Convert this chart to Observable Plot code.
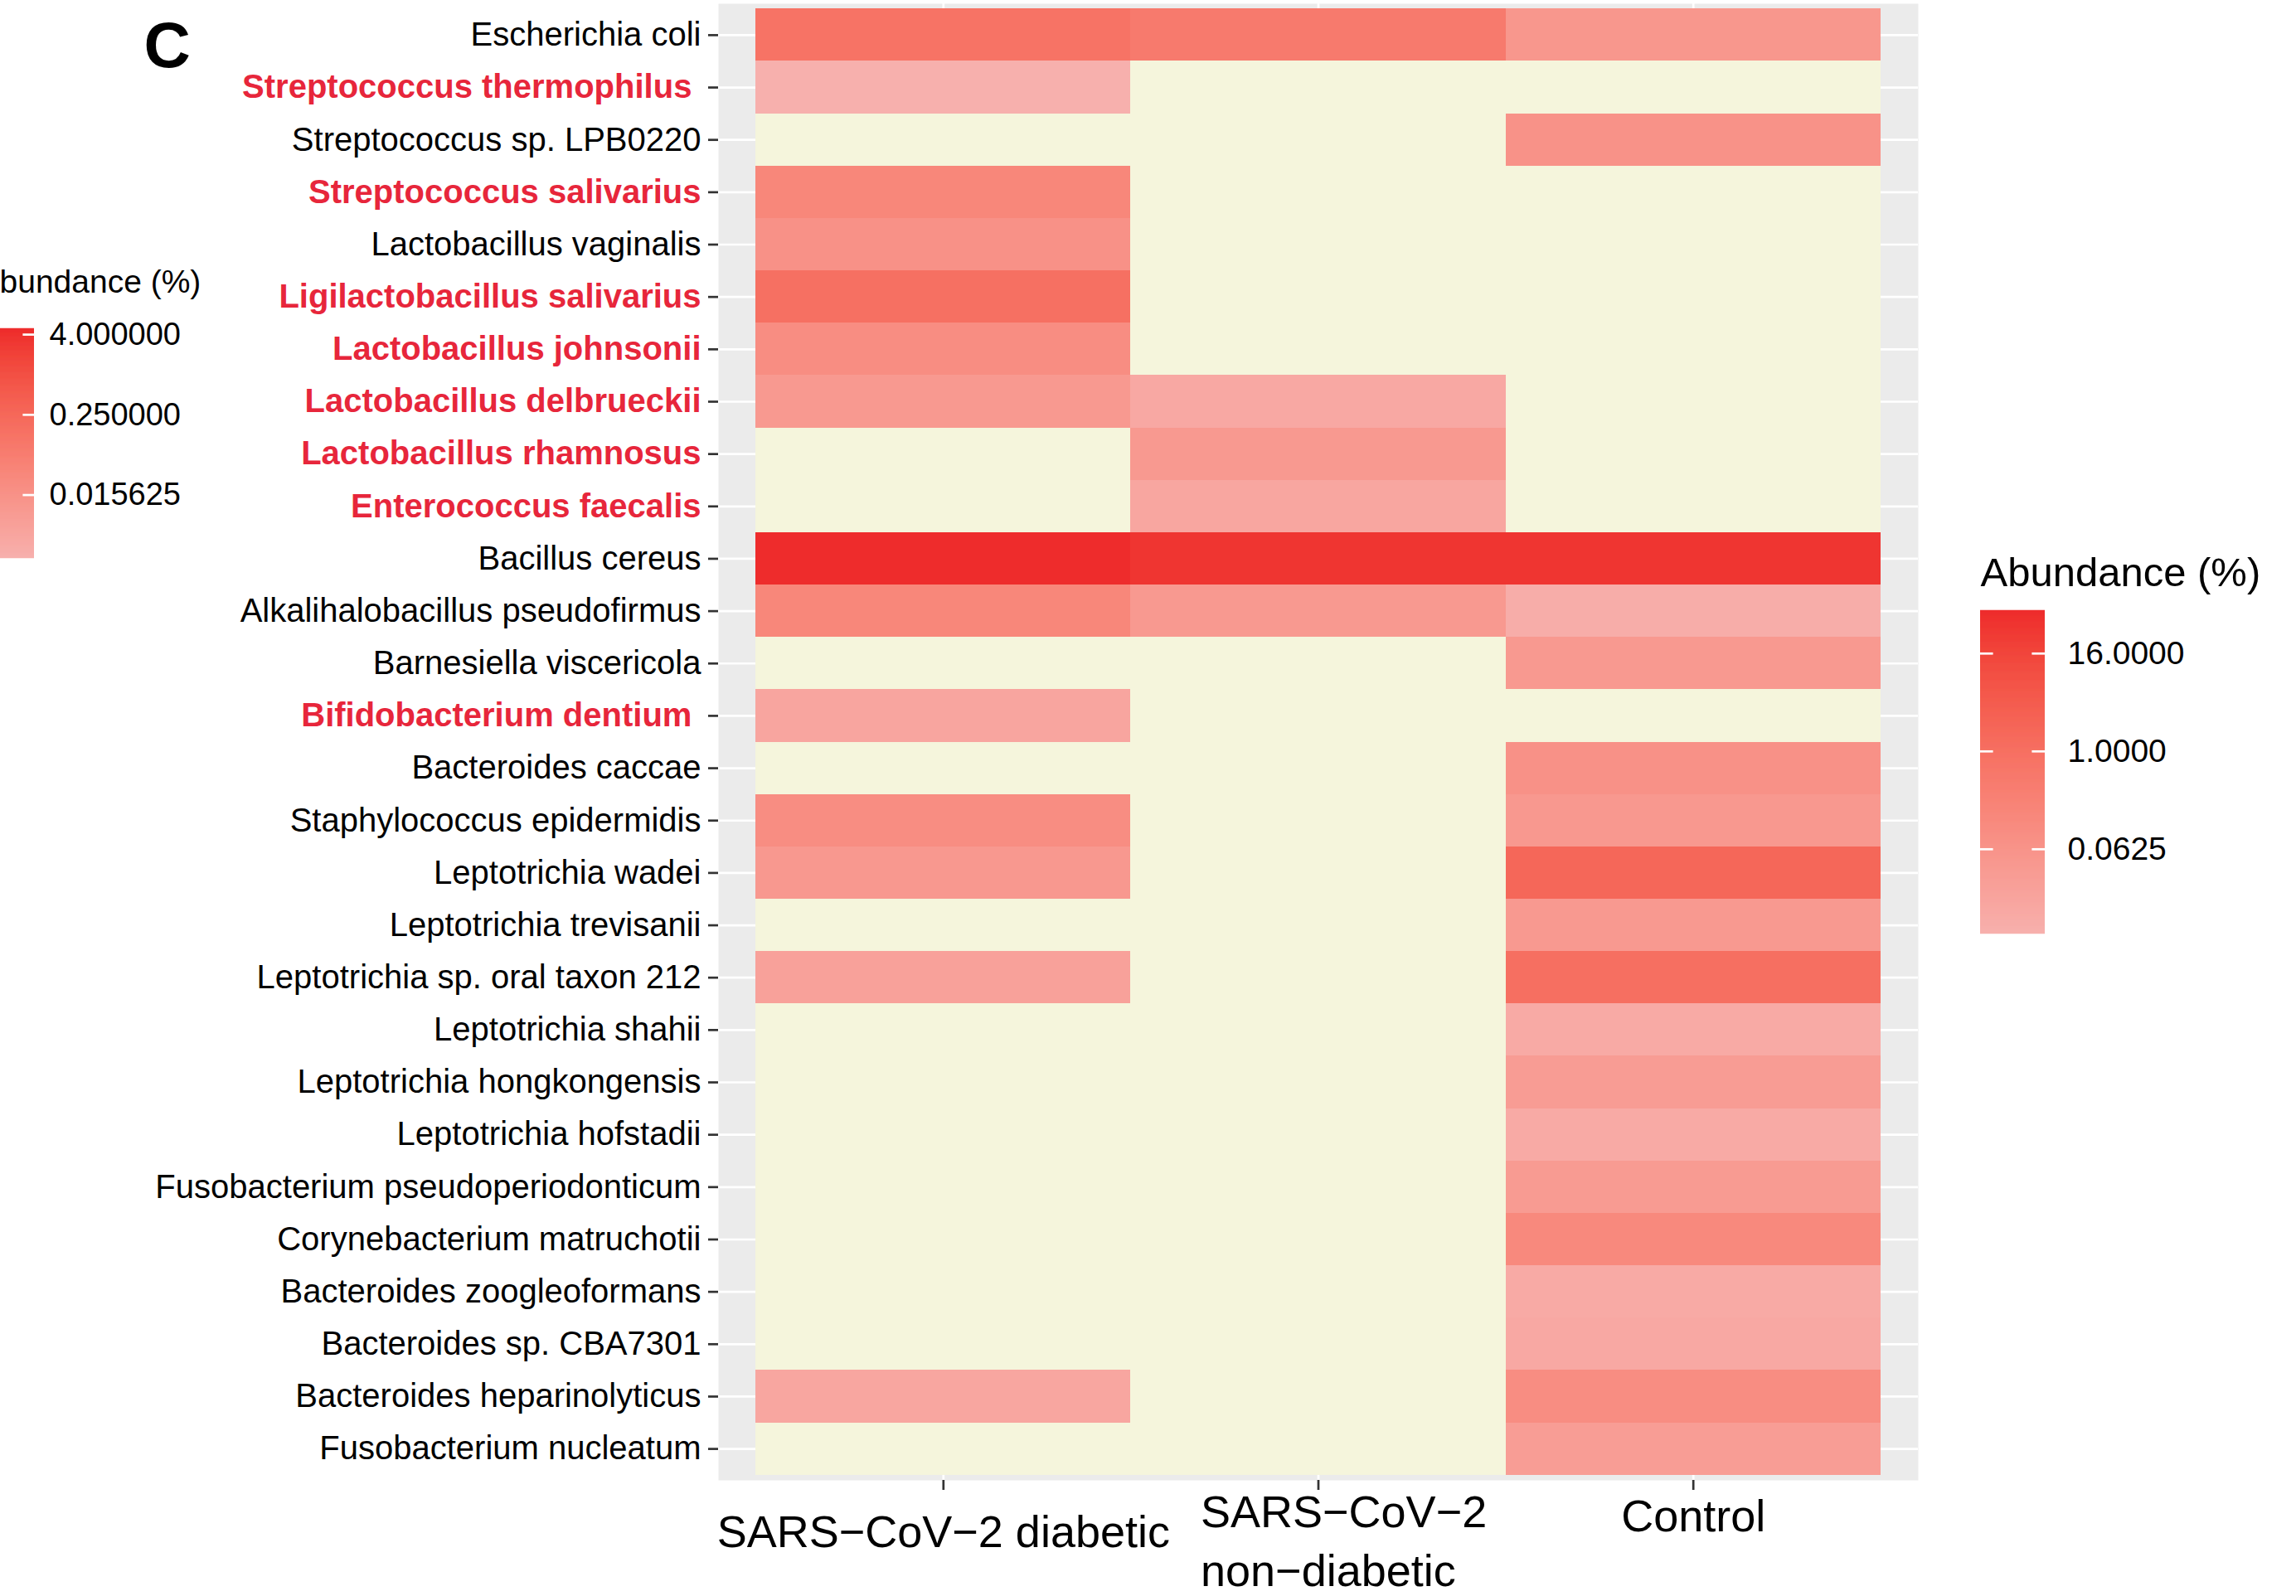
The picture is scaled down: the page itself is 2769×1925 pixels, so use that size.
<!DOCTYPE html>
<html>
<head>
<meta charset="utf-8">
<script src="https://cdn.jsdelivr.net/npm/d3@7"></script>
<script src="https://cdn.jsdelivr.net/npm/@observablehq/plot@0.6"></script>
<style>
  html, body { margin: 0; padding: 0; background: #ffffff; }
  #figure {
    position: relative; width: 2769px; height: 1925px; overflow: hidden; background: #ffffff;
    font-family: "Liberation Sans", Arial, Helvetica, sans-serif;
  }
  #figure > svg { position: absolute; overflow: visible; }
</style>
</head>
<body>
<div id="figure"></div>
<script>
// Sample groups (x categories)
const groups = ["SARS−CoV−2 diabetic", "SARS−CoV−2\nnon−diabetic", "Control"];

// Species (y categories, top to bottom)
const species = [
  "Escherichia coli",
  "Streptococcus thermophilus",
  "Streptococcus sp. LPB0220",
  "Streptococcus salivarius",
  "Lactobacillus vaginalis",
  "Ligilactobacillus salivarius",
  "Lactobacillus johnsonii",
  "Lactobacillus delbrueckii",
  "Lactobacillus rhamnosus",
  "Enterococcus faecalis",
  "Bacillus cereus",
  "Alkalihalobacillus pseudofirmus",
  "Barnesiella viscericola",
  "Bifidobacterium dentium",
  "Bacteroides caccae",
  "Staphylococcus epidermidis",
  "Leptotrichia wadei",
  "Leptotrichia trevisanii",
  "Leptotrichia sp. oral taxon 212",
  "Leptotrichia shahii",
  "Leptotrichia hongkongensis",
  "Leptotrichia hofstadii",
  "Fusobacterium pseudoperiodonticum",
  "Corynebacterium matruchotii",
  "Bacteroides zoogleoformans",
  "Bacteroides sp. CBA7301",
  "Bacteroides heparinolyticus",
  "Fusobacterium nucleatum"
];

// Probiotic species, highlighted in bold red
const probiotics = [
  "Streptococcus thermophilus",
  "Streptococcus salivarius",
  "Ligilactobacillus salivarius",
  "Lactobacillus johnsonii",
  "Lactobacillus delbrueckii",
  "Lactobacillus rhamnosus",
  "Enterococcus faecalis",
  "Bifidobacterium dentium"
];
// labels that carry a trailing space
const spacedLabels = ["Streptococcus thermophilus", "Bifidobacterium dentium"];

// Relative abundance (%) per species; null = not detected
const diabetic = [0.81, 0.0058, null, 0.18, 0.077, 1.0, 0.11, 0.040, null, null, 54, 0.18, null, 0.015,
  null, 0.11, 0.045, null, 0.021, null, null, null, null, null, null, null, 0.014, null];
const nonDiabetic = [0.47, null, null, null, null, null, null, 0.011, 0.040, 0.014, 38, 0.040, null, null,
  null, null, null, null, null, null, null, null, null, null, null, null, null, null];
const control = [0.049, null, 0.069, null, null, null, null, null, null, null, 38, 0.0075, 0.040, null,
  0.075, 0.045, 2.0, 0.040, 1.1, 0.010, 0.031, 0.010, 0.035, 0.15, 0.010, 0.011, 0.11, 0.030];

// Colour bar ticks
const legendTicks = [16, 1, 0.0625];
// Neighbouring panel B colour bar (range and ticks)
const panelBRange = [0.0018, 4.9];
const panelBTicks = [4, 0.25, 0.015625];

const lowColor = "#F7B0AD";
const highColor = "#EE2C2C";
const missingColor = "#F5F5DC";
const probioticColor = "#E7263B";
const fontFamily = '"Liberation Sans", Arial, Helvetica, sans-serif';

const series = [diabetic, nonDiabetic, control];
const table = species.flatMap((s, i) => groups.map((g, j) => ({species: s, group: g, value: series[j][i]})));
const detected = table.filter(d => d.value != null);
const extent = d3.extent(detected, d => d.value);

const colorScale = (domain) => ({type: "log", domain, range: [lowColor, highColor], interpolate: d3.interpolateLab});

const plain = species.filter(s => !probiotics.includes(s));
const labelOf = s => spacedLabels.includes(s) ? s + "\u00A0" : s;

const axisCommon = {label: null, tickSize: 12, tickPadding: 9, fontSize: 40, stroke: "#333333", strokeWidth: 2.7};

const heatmap = Plot.plot({
  width: 2769,
  height: 1925,
  marginLeft: 866,
  marginRight: 456,
  marginTop: 4,
  marginBottom: 140,
  style: {fontFamily, background: "transparent", color: "#000"},
  x: {domain: groups, paddingInner: 0, paddingOuter: 0.1, round: false},
  y: {domain: species, paddingInner: 0, paddingOuter: 0.1, round: false},
  color: colorScale(extent),
  marks: [
    Plot.frame({fill: "#EBEBEB", stroke: "none"}),
    Plot.gridX({stroke: "white", strokeOpacity: 1, strokeWidth: 2.7}),
    Plot.gridY({stroke: "white", strokeOpacity: 1, strokeWidth: 2.7}),
    Plot.cell(table, {x: "group", y: "species", fill: missingColor, inset: 0, shapeRendering: "crispEdges"}),
    Plot.cell(detected, {x: "group", y: "species", fill: "value", inset: 0, shapeRendering: "crispEdges"}),
    Plot.axisY({...axisCommon, ticks: plain, fill: "#000"}),
    Plot.axisY({...axisCommon, ticks: probiotics, tickFormat: labelOf, fill: probioticColor, fontWeight: "bold"}),
    Plot.axisX({label: null, tickSize: 12, tickFormat: () => "", stroke: "#333333", strokeWidth: 2.7}),
    Plot.text([groups[0]], {x: d => d, frameAnchor: "bottom", lineAnchor: "top", dy: 42, fontSize: 54, fill: "#000"}),
    Plot.text([groups[1]], {x: d => d, frameAnchor: "bottom", lineAnchor: "top", textAnchor: "start",
      dx: -142, dy: 7, lineHeight: 1.3, fontSize: 54, fill: "#000"}),
    Plot.text([groups[2]], {x: d => d, frameAnchor: "bottom", lineAnchor: "top", dy: 23, fontSize: 54, fill: "#000"}),
    Plot.text(["C"], {frameAnchor: "top-left", textAnchor: "start", lineAnchor: "bottom",
      dx: 173 - 866, dy: 76, fontSize: 78, fontWeight: "bold", fill: "#000"})
  ]
});
heatmap.style.left = "0px";
heatmap.style.top = "0px";

// Vertical colour bar in the ggplot style: smooth log ramp, white edge ticks, labels to the right
function colorbar({domain, ticks, format, barWidth, barHeight, labelGap, labelSize, title, titleSize, titleGap}) {
  const marginTop = 80, marginBottom = 30, labelRoom = 320;
  const n = Math.ceil(barHeight) * 2;
  const [l0, l1] = domain.map(Math.log);
  const steps = d3.range(n + 1).map(i => Math.exp(l0 + (l1 - l0) * i / n));
  const fmt = d3.format(format);
  const svg = Plot.plot({
    width: barWidth + labelRoom,
    height: barHeight + marginTop + marginBottom,
    marginLeft: 0,
    marginRight: labelRoom,
    marginTop,
    marginBottom,
    style: {fontFamily, background: "transparent", color: "#000", overflow: "visible"},
    x: {domain: [0, 1], axis: null},
    y: {type: "log", domain, axis: null},
    color: colorScale(domain),
    marks: [
      Plot.ruleY(steps, {y: d => d, x1: 0, x2: 1, stroke: d => d, strokeWidth: 1.6}),
      Plot.ruleY(ticks, {y: d => d, x1: 0, x2: 0.2, stroke: "white", strokeWidth: 2.7}),
      Plot.ruleY(ticks, {y: d => d, x1: 0.8, x2: 1, stroke: "white", strokeWidth: 2.7}),
      Plot.text(ticks, {y: d => d, text: d => fmt(d), frameAnchor: "right", textAnchor: "start",
        dx: labelGap, fontSize: labelSize, fill: "#000"}),
      Plot.text([title], {frameAnchor: "top-left", textAnchor: "start", lineAnchor: "bottom",
        dy: -titleGap, fontSize: titleSize, fill: "#000"})
    ]
  });
  svg.dataset.marginTop = marginTop;
  return svg;
}

const legendMain = colorbar({
  domain: extent, ticks: legendTicks, format: ".4f",
  barWidth: 78, barHeight: 389, labelGap: 27, labelSize: 39,
  title: "Abundance (%)", titleSize: 49, titleGap: 30
});
legendMain.style.left = "2388px";
legendMain.style.top = (736 - legendMain.dataset.marginTop) + "px";

const legendB = colorbar({
  domain: panelBRange, ticks: panelBTicks, format: ".6f",
  barWidth: 68, barHeight: 276, labelGap: 18, labelSize: 38,
  title: "Abundance (%)", titleSize: 39, titleGap: 44
});
legendB.style.left = "-27px";
legendB.style.top = (396 - legendB.dataset.marginTop) + "px";

const fig = document.getElementById("figure");
fig.append(heatmap, legendMain, legendB);
</script>
</body>
</html>
